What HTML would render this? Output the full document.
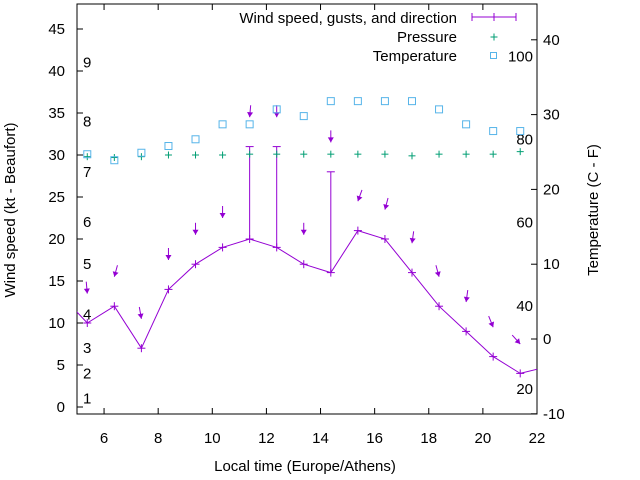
<!DOCTYPE html>
<html><head><meta charset="utf-8"><style>
body{margin:0;background:#fff}
svg{display:block;font-family:"Liberation Sans",sans-serif}
</style></head><body>
<svg id="c" width="640" height="480" viewBox="0 0 640 480" xmlns="http://www.w3.org/2000/svg"></svg>
<script>
const times=[5.38,6.38,7.38,8.38,9.38,10.38,11.38,12.38,13.38,14.38,15.38,16.38,17.38,18.38,19.38,20.38,21.38];
const windSpeed=[10,12,7,14,17,19,20,19,17,16,21,20,16,12,9,6,4];
const gusts=[null,null,null,null,null,null,31,31,null,28,null,null,null,null,null,null,null];
const windDir=[355,15,350,0,0,0,5,0,0,0,20,15,8,345,8,338,318];
const pressure=[29.8,29.7,29.8,30,30,30,30.1,30.1,30.1,30.1,30.1,30.1,29.9,30.1,30.1,30.1,30.4];
const temperature=[24.7,23.9,24.9,25.8,26.7,28.7,28.7,30.7,29.8,31.8,31.8,31.8,31.8,30.7,28.7,27.8,27.8];
const lineEdgeTimes=[4.38,22.38];
const lineEdgeSpeeds=[13.4,4.8];
const xTicks=[6,8,10,12,14,16,18,20,22];
const yTicks=[0,5,10,15,20,25,30,35,40,45];
const y2Ticks=[-10,0,10,20,30,40];
const beaufortLabels=[1,2,3,4,5,6,7,8,9];
const beaufortKt=[1,4,7,11,17,22,28,34,41];
const fahrenheitLabels=[20,40,60,80,100];

const L=77,R=537,T=4,B=414;
const X=t=>L+(t-5)*(R-L)/17;
const Y=v=>407-v*8.4;
const Y2=c=>339-c*7.48;
const svg=document.getElementById('c');
const NS='http://www.w3.org/2000/svg';
function mk(tag,attrs,parent){const e=document.createElementNS(NS,tag);for(const k in attrs)e.setAttribute(k,attrs[k]);(parent||svg).appendChild(e);return e;}
function txt(x,y,s,anchor,size,parent){const e=mk('text',{x:x,y:y,'text-anchor':anchor||'middle','font-size':size||15,fill:'#000'},parent);e.textContent=s;return e;}

const defs=mk('defs',{});
const cp=mk('clipPath',{id:'pc'},defs);
mk('rect',{x:L,y:T,width:R-L,height:B-T},cp);

const ax=mk('g',{});


mk('rect',{x:L,y:T,width:R-L,height:B-T,fill:'none',stroke:'#000','stroke-width':1},ax);
xTicks.forEach(t=>{const x=X(t);mk('line',{x1:x,y1:B,x2:x,y2:B-6,stroke:'#000'},ax);mk('line',{x1:x,y1:T,x2:x,y2:T+6,stroke:'#000'},ax);
 const l=txt(x,443,String(t),'middle',15,ax);});
yTicks.forEach(v=>{const y=Y(v);mk('line',{x1:L,y1:y,x2:L+6,y2:y,stroke:'#000'},ax);
 const l=txt(L-12,y+5,String(v),'end',15,ax);});
y2Ticks.forEach(v=>{const y=Y2(v);mk('line',{x1:R,y1:y,x2:R-6,y2:y,stroke:'#000'},ax);
 const l=txt(R+6,y+5,String(v),'start',15,ax);});
beaufortLabels.forEach((b,i)=>{const l=txt(83,Y(beaufortKt[i])+5,String(b),'start',15,ax);});
fahrenheitLabels.forEach(f=>{const c=(f-32)*5/9;const l=txt(533,Y2(c)+5,String(f),'end',15,ax);});
let t1=txt(305,471,'Local time (Europe/Athens)','middle',15);
let t2=txt(0,0,'Wind speed (kt - Beaufort)','middle',15);t2.setAttribute('transform','translate(15,210) rotate(-90)');
let t3=txt(0,0,'Temperature (C - F)','middle',15);t3.setAttribute('transform','translate(598,210) rotate(-90)');

const plot=mk('g',{'clip-path':'url(#pc)'});
const pts=[[lineEdgeTimes[0],lineEdgeSpeeds[0]]].concat(times.map((t,i)=>[t,windSpeed[i]])).concat([[lineEdgeTimes[1],lineEdgeSpeeds[1]]]);
const wl=mk('polyline',{points:pts.map(p=>X(p[0])+','+Y(p[1])).join(' '),fill:'none',stroke:'#9400d3','stroke-width':1},plot);


function plus(x,y,col,s,name){const g=mk('g',{stroke:col,'stroke-width':1},plot);mk('line',{x1:x-s,y1:y,x2:x+s,y2:y},g);mk('line',{x1:x,y1:y-s,x2:x,y2:y+s},g);
 
 }
times.forEach((t,i)=>{
 const x=X(t);
 plus(x,Y(windSpeed[i]),'#9400d3',4,'wind-point');
 let top=windSpeed[i];
 if(gusts[i]!=null){top=gusts[i];const g=mk('g',{stroke:'#9400d3'},plot);mk('line',{x1:x,y1:Y(windSpeed[i]),x2:x,y2:Y(gusts[i])},g);mk('line',{x1:x-4,y1:Y(gusts[i]),x2:x+4,y2:Y(gusts[i])},g);
  
  }
 const hx=x,hy=Y(top+3.5);
 const a=windDir[i]*Math.PI/180;
 const dx=-Math.sin(a),dy=Math.cos(a);
 const len=12;
 const sx=hx-dx*len,sy=hy-dy*len;
 const ag=mk('g',{},plot);
 mk('line',{x1:sx,y1:sy,x2:hx,y2:hy,stroke:'#9400d3','stroke-width':1},ag);
 const px=-dy,py=dx;
 mk('polygon',{points:`${hx},${hy} ${hx-dx*5+px*3},${hy-dy*5+py*3} ${hx-dx*5-px*3},${hy-dy*5-py*3}`,fill:'#9400d3'},ag);
 
 
 plus(x,Y(pressure[i]),'#009e73',3.5,'pressure-point');
 const sq=mk('rect',{x:x-3.5,y:Y2(temperature[i])-3.5,width:7,height:7,fill:'none',stroke:'#56b4e9','stroke-width':1},plot);
 
 
});

const lg=mk('g',{});


txt(457,23,'Wind speed, gusts, and direction','end',15,lg);
txt(457,42,'Pressure','end',15,lg);
txt(457,61,'Temperature','end',15,lg);
const lw=mk('g',{stroke:'#9400d3'},lg);
mk('line',{x1:472,y1:17,x2:516,y2:17},lw);mk('line',{x1:472,y1:13,x2:472,y2:21},lw);mk('line',{x1:516,y1:13,x2:516,y2:21},lw);mk('line',{x1:494,y1:13,x2:494,y2:21},lw);
const lp=mk('g',{stroke:'#009e73'},lg);mk('line',{x1:490.5,y1:37,x2:497.5,y2:37},lp);mk('line',{x1:494,y1:33.5,x2:494,y2:40.5},lp);
mk('rect',{x:490.5,y:52.5,width:6,height:6,fill:'none',stroke:'#56b4e9'},lg);
</script>
</body></html>
